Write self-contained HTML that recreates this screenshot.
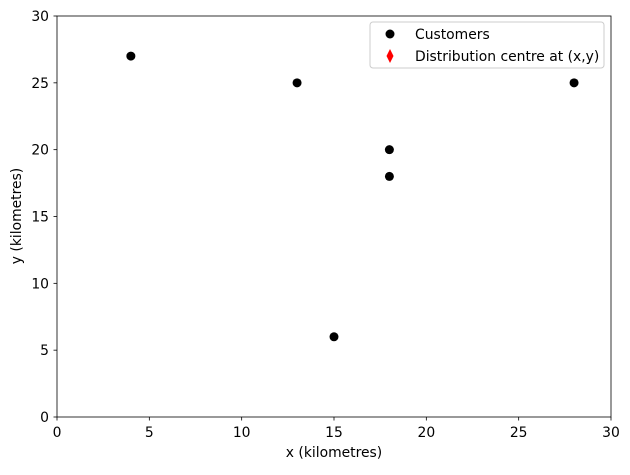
<!DOCTYPE html>
<html><head><meta charset="utf-8"><style>
html,body{margin:0;padding:0;background:#fff;}
svg text{font-family:"DejaVu Sans","Liberation Sans",sans-serif;}
</style></head><body>
<svg id="chart" width="630" height="470" xmlns="http://www.w3.org/2000/svg">
<rect width="630" height="470" fill="#fff"/>
<g id="ticks"></g>
<g id="points"></g>
<rect x="57" y="16" width="554" height="401" fill="none" stroke="#000" stroke-width="0.8"/>
<text x="334" y="457" font-size="13.9" text-anchor="middle">x (kilometres)</text>
<text transform="translate(21,216) rotate(-90)" font-size="13.9" text-anchor="middle">y (kilometres)</text>
<g>
<rect x="370" y="22" width="234" height="46" rx="3" fill="#fff" stroke="#ccc" stroke-width="1"/>
<circle cx="390" cy="34" r="4.5" fill="#000"/>
<text x="415" y="39" font-size="13.9">Customers</text>
<polygon points="390,49 393.5,56 390,63 386.5,56" fill="red"/>
<text x="415" y="61" font-size="13.9">Distribution centre at (x,y)</text>
</g>
</svg>
<script>
const customerX = [4, 13, 15, 18, 18, 28];
const customerY = [27, 25, 6, 20, 18, 25];
const xTicks = [0, 5, 10, 15, 20, 25, 30];
const yTicks = [0, 5, 10, 15, 20, 25, 30];
const NS = "http://www.w3.org/2000/svg";
function sx(v){ return 57 + v / 30 * 554; }
function sy(v){ return 417 - v / 30 * 401; }
const tg = document.getElementById('ticks');
const pg = document.getElementById('points');
xTicks.forEach(t => {
  const l = document.createElementNS(NS, 'line');
  l.setAttribute('x1', sx(t)); l.setAttribute('x2', sx(t));
  l.setAttribute('y1', 417); l.setAttribute('y2', 420.5);
  l.setAttribute('stroke', '#000'); l.setAttribute('stroke-width', '0.8');
  
  
  tg.appendChild(l);
  const tx = document.createElementNS(NS, 'text');
  tx.setAttribute('x', sx(t)); tx.setAttribute('y', 437);
  tx.setAttribute('font-size', '13.9'); tx.setAttribute('text-anchor', 'middle');
  tx.textContent = t;
  
  
  tg.appendChild(tx);
});
yTicks.forEach(t => {
  const l = document.createElementNS(NS, 'line');
  l.setAttribute('x1', 53.5); l.setAttribute('x2', 57);
  l.setAttribute('y1', sy(t)); l.setAttribute('y2', sy(t));
  l.setAttribute('stroke', '#000'); l.setAttribute('stroke-width', '0.8');
  
  
  tg.appendChild(l);
  const tx = document.createElementNS(NS, 'text');
  tx.setAttribute('x', 49); tx.setAttribute('y', sy(t) + 5);
  tx.setAttribute('font-size', '13.9'); tx.setAttribute('text-anchor', 'end');
  tx.textContent = t;
  
  
  tg.appendChild(tx);
});
customerX.forEach((x, i) => {
  const c = document.createElementNS(NS, 'circle');
  c.setAttribute('cx', sx(x)); c.setAttribute('cy', sy(customerY[i]));
  c.setAttribute('r', 4.5); c.setAttribute('fill', '#000');
  
  
  pg.appendChild(c);
});
</script>
</body></html>
